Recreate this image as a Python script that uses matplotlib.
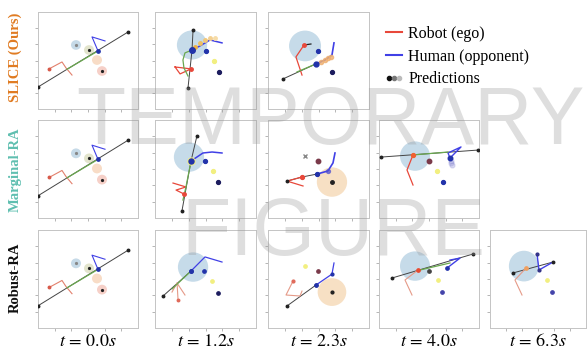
import matplotlib
matplotlib.use('Agg')
import matplotlib.pyplot as plt
from matplotlib.patches import Circle
from matplotlib.lines import Line2D
from matplotlib.legend_handler import HandlerTuple

plt.rcParams['mathtext.fontset'] = 'stix'

# row / column labels
methods = ['SLICE (Ours)', 'Marginal-RA', 'Robust-RA']
method_colors = ['#e07b22', '#5fbfb0', '#111111']
times = ['0.0', '1.2', '2.3', '4.0', '6.3']
n_cols = [3, 4, 5]  # panels shown in each row

# ---- t = 0.0s (same start state in every row) ----
t0_plan = [(0.0, 1.36), (5.4, 4.76)]
t0_green = [(1.74, 2.46), (3.6, 3.59)]
t0_robot = [(0.66, 2.48), (1.44, 2.91), (1.68, 2.54), (2.04, 2.10)]
t0_human = [(4.02, 4.21), (3.24, 4.46), (3.6, 3.59)]
t0_modes = [(2.28, 3.96), (3.06, 3.65), (3.54, 3.03), (3.84, 2.35)]

# ---- SLICE, t = 1.2s ----
s1_zone = (2.20, 3.96)
s1_plan = [(2.26, 4.89), (2.20, 3.65), (1.96, 1.30)]
s1_green = [(2.20, 3.65), (1.78, 3.47), (1.66, 3.03), (1.72, 2.54), (1.96, 2.04)]
s1_robot = [(1.19, 2.60), (2.14, 2.48), (1.49, 2.17), (1.19, 2.60)]
s1_human = [(2.20, 3.65), (2.67, 3.90), (3.27, 4.27), (3.98, 4.09)]
s1_pred = [(2.38, 3.84), (2.67, 4.09), (2.97, 4.27), (3.27, 4.39), (3.56, 4.39)]
s1_blue, s1_yellow, s1_navy = (3.03, 3.59), (3.50, 2.97), (3.80, 2.29)

# ---- SLICE, t = 2.3s ----
s2_zone = (2.20, 3.90)
s2_plan = [(0.89, 1.86), (2.85, 2.79)]
s2_green = [(1.72, 2.29), (2.85, 2.79)]
s2_stub = [(2.14, 3.96), (2.55, 4.02)]
s2_robot = [(2.14, 3.96), (1.66, 3.22), (2.02, 2.10)]
s2_human = [(2.85, 2.79), (3.39, 3.03), (3.80, 3.34), (3.92, 4.09)]
s2_pred = [(3.15, 2.91), (3.39, 3.03), (3.56, 3.16), (3.74, 3.22)]
s2_blue, s2_navy = (2.97, 3.59), (3.80, 2.29)

# ---- Marginal-RA, t = 1.2s ----
m1_zone = (2.02, 3.73)
m1_plan = [(2.49, 5.02), (2.14, 3.49), (1.60, 0.43)]
m1_green = [(2.14, 3.49), (1.84, 1.90), (1.66, 1.10)]
m1_robot = [(1.07, 2.14), (1.84, 1.90), (1.25, 1.71), (1.72, 1.47)]
m1_human = [(2.14, 3.49), (2.85, 3.98), (3.39, 4.04), (3.98, 3.98)]
m1_blue, m1_yellow, m1_navy = (2.97, 3.49), (3.45, 2.88), (3.74, 2.20)

# ---- Marginal-RA, t = 2.3s ----
m2_zone = (3.80, 2.20)
m2_plan = [(1.13, 2.26), (2.02, 2.51), (2.91, 2.69)]
m2_robot = [(2.02, 2.51), (1.13, 2.26), (2.08, 1.96)]
m2_human = [(2.91, 2.69), (3.56, 2.88), (3.86, 3.37), (3.98, 3.98)]
m2_gray, m2_maroon = (2.20, 3.79), (2.97, 3.49)

# ---- Marginal-RA, t = 4.0s ----
m3_zone = (2.16, 3.79)
m3_plan = [(0.12, 3.73), (5.94, 4.16)]
m3_green = [(2.04, 3.86), (4.14, 4.04)]
m3_robot = [(2.04, 3.86), (1.68, 2.94), (2.04, 2.02)]
m3_human = [(4.26, 3.67), (4.14, 3.98), (4.92, 4.35), (4.26, 3.67)]
m3_maroon, m3_yellow, m3_navy = (3.0, 3.49), (3.48, 2.88), (3.84, 2.20)

# ---- Robust-RA, t = 1.2s ----
r1_zone = (2.26, 3.73)
r1_plan = [(0.48, 1.96), (2.14, 3.49)]
r1_green = [(1.01, 2.39), (2.14, 3.49)]
r1_robot = [(1.01, 2.20), (1.31, 2.75), (1.78, 2.02)]
r1_leg = [(1.31, 2.75), (1.37, 1.71)]
r1_human = [(2.14, 3.49), (2.97, 4.35), (3.98, 4.04)]
r1_blue, r1_yellow, r1_navy = (2.91, 3.49), (3.39, 2.88), (3.74, 2.14)

# ---- Robust-RA, t = 2.3s ----
r2_zone = (3.80, 2.20)
r2_plan = [(1.13, 1.35), (2.85, 2.63)]
r2_robot = [(1.49, 2.88), (1.07, 2.02), (1.90, 1.96), (2.02, 2.26)]
r2_human = [(2.85, 2.63), (3.80, 3.30), (3.92, 3.98)]
r2_yellow, r2_maroon = (2.20, 3.79), (2.97, 3.49)

# ---- Robust-RA, t = 4.0s ----
r3_zone = (2.16, 3.79)
r3_plan = [(0.78, 3.06), (5.64, 4.53)]
r3_green = [(2.46, 3.55), (4.26, 3.98)]
r3_robot = [(2.34, 3.55), (1.56, 2.94), (1.98, 2.02)]
r3_human = [(4.08, 3.67), (4.86, 4.28), (4.26, 4.16)]
r3_maroon, r3_yellow, r3_navy = (3.0, 3.49), (3.54, 2.94), (3.78, 2.20)

# ---- Robust-RA, t = 6.3s ----
r4_zone = (2.12, 3.79)
r4_plan = [(1.44, 3.37), (3.94, 4.04)]
r4_robot = [(2.25, 3.67), (1.56, 2.94), (2.0, 2.02)]
r4_human = [(2.94, 4.53), (3.06, 3.55), (3.94, 4.04)]
r4_yellow, r4_navy = (3.56, 2.94), (3.88, 2.20)

# colours
RED = '#e8483a'
SALMON = '#e59a88'
BLUE = '#4040e6'
GREEN = '#6aa84f'
ZONE_B = '#c6dbe9'
ZONE_O = '#f7e0c4'
DOT_B = '#2233aa'
DOT_Y = '#f2ef80'
DOT_N = '#1c1c5e'
DOT_M = '#7a3a4a'

FW, FH = 587, 351
col_x = [(38, 138), (155, 256), (268, 369), (379, 479), (490, 586)]
row_y = [(12, 109), (120, 218), (230, 328)]

fig = plt.figure(figsize=(FW / 100, FH / 100), dpi=100)


def make_ax(r, c):
    l, rr = col_x[c]
    t, b = row_y[r]
    ax = fig.add_axes([l / FW, 1 - b / FH, (rr - l) / FW, (b - t) / FH])
    ax.set_xlim(0, 6)
    ax.set_ylim(0, 6)
    ax.set_xticks(range(1, 6))
    ax.set_yticks(range(1, 6))
    ax.tick_params(length=2, width=0.5, color='#999999', direction='out',
                   labelleft=False, labelbottom=False)
    for s in ax.spines.values():
        s.set_color('#c4c4c4')
        s.set_linewidth(0.7)
    return ax


def line(ax, pts, color, lw=0.9, z=3, alpha=1):
    xs, ys = zip(*pts)
    ax.plot(xs, ys, color=color, lw=lw, zorder=z, alpha=alpha)


def dot(ax, p, color, ms=2.8, z=5, marker='o', alpha=1):
    ax.plot([p[0]], [p[1]], ls='none', marker=marker, ms=ms, color=color,
            mec=color, zorder=z, alpha=alpha)


def zone(ax, p, color, r=0.9):
    ax.add_patch(Circle(p, r, color=color, lw=0, zorder=1))


def plan(ax, pts, green=None):
    line(ax, pts, '#444444', lw=0.7)
    dot(ax, pts[0], '#222222', ms=1.8)
    dot(ax, pts[-1], '#222222', ms=1.8)
    if green:
        line(ax, green, GREEN, lw=0.9, z=4)


def draw_t0(ax):
    mode_cols = ['#c6dae8', '#e2e4cc', '#f8dcc6', '#f6d0c8']
    mode_dots = ['#888888', '#222222', None, '#222222']
    for p, mc, dc in zip(t0_modes, mode_cols, mode_dots):
        zone(ax, p, mc, r=0.3)
        if dc:
            dot(ax, p, dc, ms=1.3)
    plan(ax, t0_plan, t0_green)
    line(ax, t0_robot, '#e2806c', lw=0.8)
    dot(ax, t0_robot[0], '#d85a4a', ms=1.8)
    line(ax, t0_human, BLUE, lw=0.8)
    dot(ax, t0_human[-1], DOT_B, ms=2.4)


axes = {}
for r in range(3):
    for c in range(n_cols[r]):
        axes[r, c] = make_ax(r, c)
    draw_t0(axes[r, 0])

# SLICE t=1.2
ax = axes[0, 1]
zone(ax, s1_zone, ZONE_B)
plan(ax, s1_plan, s1_green)
line(ax, s1_robot, RED, lw=0.9)
dot(ax, s1_robot[1], RED, ms=2.5)
line(ax, s1_human, BLUE, lw=1.1)
for i, p in enumerate(s1_pred):
    dot(ax, p, ['#f0b040', '#eec060', '#f2c878', '#f4d090', '#f6dca8'][i], ms=2.5)
dot(ax, s1_plan[1], DOT_B, ms=4)
dot(ax, s1_blue, DOT_B, ms=2.8)
dot(ax, s1_yellow, DOT_Y, ms=2.8)
dot(ax, s1_navy, DOT_N, ms=2.8)

# SLICE t=2.3
ax = axes[0, 2]
zone(ax, s2_zone, ZONE_B, r=0.95)
plan(ax, s2_plan, s2_green)
line(ax, s2_stub, '#222222', lw=0.9)
line(ax, s2_robot, RED, lw=0.9)
dot(ax, s2_robot[0], RED, ms=2.5)
line(ax, s2_human, BLUE, lw=1.2)
for p in s2_pred:
    dot(ax, p, '#efb070', ms=3, alpha=0.8)
dot(ax, s2_human[0], DOT_B, ms=3.5)
dot(ax, s2_blue, DOT_B, ms=2.8)
dot(ax, s2_navy, DOT_N, ms=2.8)

# Marginal t=1.2
ax = axes[1, 1]
zone(ax, m1_zone, ZONE_B)
plan(ax, m1_plan, m1_green)
line(ax, m1_robot, RED, lw=0.9)
dot(ax, m1_robot[-1], RED, ms=2.5)
line(ax, m1_human, BLUE, lw=1.1)
dot(ax, m1_plan[1], DOT_Y, ms=5, z=4)
dot(ax, m1_plan[1], DOT_B, ms=3.6)
dot(ax, m1_blue, DOT_B, ms=2.8)
dot(ax, m1_yellow, DOT_Y, ms=2.8)
dot(ax, m1_navy, DOT_N, ms=2.8)

# Marginal t=2.3
ax = axes[1, 2]
zone(ax, m2_zone, ZONE_O)
dot(ax, m2_zone, '#222222', ms=2.5)
plan(ax, m2_plan)
line(ax, m2_robot, RED, lw=0.9)
dot(ax, m2_robot[0], RED, ms=2.8)
line(ax, m2_human, BLUE, lw=1.2)
dot(ax, m2_human[0], DOT_B, ms=2.8)
dot(ax, m2_human[1], '#5050d0', ms=2.8, alpha=0.7)
dot(ax, m2_gray, '#888888', ms=2.5, marker='x')
dot(ax, m2_maroon, DOT_M, ms=3.2)

# Marginal t=4.0
ax = axes[1, 3]
zone(ax, m3_zone, ZONE_B)
plan(ax, m3_plan, m3_green)
line(ax, m3_robot, RED, lw=0.9)
dot(ax, m3_robot[0], '#f06030', ms=2.8)
line(ax, m3_human, BLUE, lw=1.0)
for k in range(4):
    dot(ax, (m3_human[0][0] + 0.03 * k, m3_human[0][1] - 0.15 * k), '#8080d0',
        ms=3.5, alpha=0.25)
dot(ax, m3_human[0], DOT_B, ms=3.2)
dot(ax, m3_maroon, DOT_M, ms=3.2)
dot(ax, m3_yellow, DOT_Y, ms=2.8)
dot(ax, m3_navy, DOT_B, ms=2.8)

# Robust t=1.2
ax = axes[2, 1]
zone(ax, r1_zone, ZONE_B)
plan(ax, r1_plan, r1_green)
line(ax, r1_robot, SALMON, lw=0.8)
line(ax, r1_leg, SALMON, lw=0.8)
dot(ax, r1_leg[-1], '#e06a5a', ms=1.8)
line(ax, r1_human, BLUE, lw=0.9)
dot(ax, r1_plan[-1], DOT_B, ms=2.6)
dot(ax, r1_blue, DOT_B, ms=2.4)
dot(ax, r1_yellow, DOT_Y, ms=2.4)
dot(ax, r1_navy, DOT_N, ms=2.4)

# Robust t=2.3
ax = axes[2, 2]
zone(ax, r2_zone, ZONE_O, r=0.85)
dot(ax, r2_zone, '#222222', ms=2)
plan(ax, r2_plan)
line(ax, r2_robot, SALMON, lw=0.8)
dot(ax, r2_robot[0], '#e06a5a', ms=2)
line(ax, r2_human, BLUE, lw=0.9)
dot(ax, r2_human[0], DOT_B, ms=2.4)
dot(ax, r2_human[1], DOT_B, ms=2)
dot(ax, r2_yellow, DOT_Y, ms=2.4)
dot(ax, r2_maroon, DOT_M, ms=2.4)

# Robust t=4.0
ax = axes[2, 3]
zone(ax, r3_zone, ZONE_B)
plan(ax, r3_plan, r3_green)
line(ax, r3_robot, SALMON, lw=0.8)
dot(ax, r3_robot[0], '#e84a30', ms=2.4)
line(ax, r3_human, BLUE, lw=1.0)
dot(ax, r3_human[0], DOT_B, ms=2.4)
dot(ax, r3_maroon, '#444444', ms=2.4)
dot(ax, r3_yellow, DOT_Y, ms=2.4)
dot(ax, r3_navy, '#4444aa', ms=2.4)

# Robust t=6.3
ax = axes[2, 4]
zone(ax, r4_zone, ZONE_B, r=0.94)
plan(ax, r4_plan)
line(ax, r4_robot, SALMON, lw=0.8)
dot(ax, r4_robot[0], '#f0a060', ms=2.4)
line(ax, r4_human, BLUE, lw=1.0)
dot(ax, r4_human[0], '#333388', ms=2)
dot(ax, r4_human[1], '#333388', ms=2)
dot(ax, r4_yellow, DOT_Y, ms=2.4)
dot(ax, r4_navy, '#4444aa', ms=2.4)

# row labels
row_cy = [57, 170, 278]
for name, col, cy in zip(methods, method_colors, row_cy):
    fig.text(15 / FW, 1 - cy / FH, name, rotation=90, ha='center', va='center',
             fontsize=10.5, fontweight='bold', family='Liberation Serif', color=col)

# time labels
for (l, rr), t in zip(col_x, times):
    fig.text((l + rr) / 2 / FW, 1 - 341 / FH, r'$t\,=\,%s s$' % t,
             ha='center', va='center', fontsize=13)

# legend
handles = [Line2D([], [], color=RED, lw=1.5),
           Line2D([], [], color=BLUE, lw=1.5),
           (Line2D([], [], ls='none', marker='o', ms=3, color='#111111'),
            Line2D([], [], ls='none', marker='o', ms=3, color='#777777'),
            Line2D([], [], ls='none', marker='o', ms=3, color='#bbbbbb'))]
fig.legend(handles, ['Robot (ego)', 'Human (opponent)', 'Predictions'],
           loc='upper left', bbox_to_anchor=(386 / FW, 1 - 26 / FH),
           frameon=False, prop={'family': 'Liberation Serif', 'size': 11.5},
           handlelength=1.0, handletextpad=0.4, labelspacing=0.42,
           borderpad=0, borderaxespad=0,
           handler_map={tuple: HandlerTuple(ndivide=None, pad=0)})

# watermark
fig.text(330 / FW, 1 - 123 / FH, 'TEMPORARY', ha='center', va='center',
         fontsize=58, family='Liberation Sans', color='0.6', alpha=0.32, zorder=20)
fig.text(333 / FW, 1 - 234 / FH, 'FIGURE', ha='center', va='center',
         fontsize=58, family='Liberation Sans', color='0.6', alpha=0.32, zorder=20)

fig.savefig('out.png', dpi=100)
